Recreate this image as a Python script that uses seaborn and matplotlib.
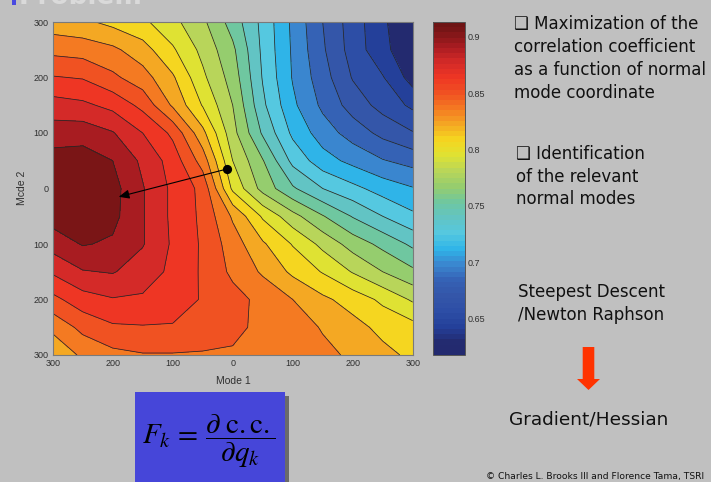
import numpy as np
import matplotlib
matplotlib.use("Agg")
import matplotlib.pyplot as plt
import seaborn as sns
from matplotlib.cm import ScalarMappable
from matplotlib.colors import LinearSegmentedColormap, Normalize
from matplotlib.patches import Rectangle, Polygon

# normal mode grid
mode1 = [-300, -250, -200, -150, -100, -50, 0, 50, 100, 150, 200, 250, 300]
mode2 = [300, 250, 200, 150, 100, 50, 0, -50, -100, -150, -200, -250, -300]

# correlation coefficient, one row per Mode 2 value (top to bottom)
cc_p300 = [0.822, 0.819, 0.812, 0.805, 0.792, 0.777, 0.754, 0.728, 0.701, 0.676, 0.655, 0.637, 0.618]
cc_p250 = [0.840, 0.838, 0.833, 0.822, 0.804, 0.784, 0.763, 0.729, 0.702, 0.678, 0.656, 0.638, 0.623]
cc_p200 = [0.859, 0.857, 0.847, 0.836, 0.818, 0.791, 0.768, 0.731, 0.703, 0.682, 0.661, 0.649, 0.628]
cc_p150 = [0.878, 0.875, 0.868, 0.854, 0.828, 0.801, 0.774, 0.735, 0.707, 0.687, 0.670, 0.657, 0.645]
cc_p100 = [0.893, 0.894, 0.887, 0.872, 0.855, 0.820, 0.779, 0.744, 0.715, 0.697, 0.684, 0.672, 0.663]
cc_p050 = [0.906, 0.907, 0.900, 0.883, 0.866, 0.838, 0.788, 0.761, 0.728, 0.710, 0.700, 0.691, 0.685]
cc_000 = [0.912, 0.908, 0.905, 0.887, 0.869, 0.854, 0.799, 0.769, 0.748, 0.732, 0.722, 0.712, 0.705]
cc_m050 = [0.906, 0.907, 0.904, 0.887, 0.869, 0.855, 0.828, 0.800, 0.779, 0.761, 0.745, 0.732, 0.721]
cc_m100 = [0.892, 0.901, 0.898, 0.887, 0.870, 0.856, 0.837, 0.818, 0.801, 0.784, 0.768, 0.756, 0.743]
cc_m150 = [0.874, 0.885, 0.887, 0.879, 0.869, 0.856, 0.841, 0.828, 0.813, 0.801, 0.787, 0.774, 0.763]
cc_m200 = [0.854, 0.866, 0.871, 0.870, 0.864, 0.857, 0.849, 0.840, 0.830, 0.819, 0.810, 0.799, 0.786]
cc_m250 = [0.834, 0.848, 0.856, 0.857, 0.857, 0.850, 0.846, 0.842, 0.836, 0.829, 0.821, 0.812, 0.807]
cc_m300 = [0.817, 0.833, 0.840, 0.843, 0.843, 0.843, 0.843, 0.840, 0.837, 0.833, 0.828, 0.820, 0.813]

# search path: start point and the maximum it heads to
search_start = [-10, 35]
search_end = [-190, -15]

tick_values = [-300, -200, -100, 0, 100, 200, 300]
x_tick_labels = ["300", "200", "100", "0", "100", "200", "300"]
y_tick_labels = ["300", "200", "100", "0", "100", "200", "300"]
cbar_ticks = [0.65, 0.70, 0.75, 0.80, 0.85, 0.90]
cbar_tick_labels = ["0.65", "0.7", "0.75", "0.8", "0.85", "0.9"]
cbar_range = [0.618, 0.913]

# fill colours, lowest band first
band_colors = ["#232a6f", "#24409a", "#2d4ea6", "#3456a9", "#3562b5", "#3a86cf",
               "#2fb4e8", "#55c8e0", "#62c4c4", "#6fc7a0", "#95cd6e", "#b8d55a",
               "#dfe233", "#f5d620", "#f4a823", "#f47a22", "#f05222", "#ee3624",
               "#d42a28", "#a81c21", "#7a1516"]

SLIDE = "#c0c0c0"
W, H = 711, 482


def fx(px):
    return px / W


def fy(py):
    return 1 - py / H


sns.set_style("white")
plt.rcParams["font.family"] = ["DejaVu Sans"]
plt.rcParams["mathtext.fontset"] = "stix"

Z = np.array([cc_p300, cc_p250, cc_p200, cc_p150, cc_p100, cc_p050, cc_000,
              cc_m050, cc_m100, cc_m150, cc_m200, cc_m250, cc_m300])
X, Y = np.meshgrid(mode1, mode2)

inner_levels = list(np.round(np.arange(0.634, 0.9005, 0.014), 3))
bounds = [0.60] + inner_levels + [0.93]

fig = plt.figure(figsize=(W / 100, H / 100), dpi=100, facecolor=SLIDE)

# contour map
ax = fig.add_axes([fx(52.7), fy(355), fx(412.7) - fx(52.7), fy(22) - fy(355)])
ax.contourf(X, Y, Z, levels=bounds, colors=band_colors)
ax.contour(X, Y, Z, levels=inner_levels, colors="#262626", linewidths=0.55)
ax.annotate("", xy=search_end, xytext=search_start,
            arrowprops=dict(arrowstyle="-|>,head_length=0.7,head_width=0.3",
                            color="black", lw=0.8, shrinkA=0, shrinkB=0,
                            mutation_scale=9))
sns.scatterplot(x=[search_start[0]], y=[search_start[1]], color="black", s=44,
                linewidth=0, ax=ax, zorder=6, legend=False)
ax.set_xlim(-300, 300)
ax.set_ylim(-300, 300)
ax.set_xticks(tick_values)
ax.set_xticklabels(x_tick_labels)
ax.set_yticks(tick_values)
ax.set_yticklabels(y_tick_labels)
ax.tick_params(length=0, pad=3, labelsize=6.5, labelcolor="#303030")
for lab in ax.get_xticklabels() + ax.get_yticklabels():
    lab.set_family("Liberation Sans")
for sp in ax.spines.values():
    sp.set_color("#7a7a7a")
    sp.set_linewidth(0.8)
ax.set_xlabel("")
ax.set_ylabel("")

fig.text(fx(233), fy(381), "Mode 1", ha="center", va="center", fontsize=7.5,
         color="#303030", family="Liberation Sans")
fig.text(fx(22), fy(188), "Mcde 2", ha="center", va="center", rotation=90,
         fontsize=7.5, color="#303030", family="Liberation Sans")

# colorbar
cax = fig.add_axes([fx(433), fy(355), fx(465) - fx(433), fy(22) - fy(355)])
mids = [0.62 + 0.014 * (k + 0.5) for k in range(len(band_colors))]
span = cbar_range[1] - cbar_range[0]
anchors = [(0.0, band_colors[0])]
anchors += [((m - cbar_range[0]) / span, c) for m, c in zip(mids, band_colors)]
anchors += [(1.0, "#6e1414")]
cb_cmap = LinearSegmentedColormap.from_list("slide_jet", anchors, N=64)
sm = ScalarMappable(norm=Normalize(*cbar_range), cmap=cb_cmap)
cb = fig.colorbar(sm, cax=cax, ticks=cbar_ticks)
cb.ax.set_yticklabels(cbar_tick_labels)
cb.ax.tick_params(direction="in", length=3, width=0.6, color="#404040",
                  labelsize=6.5, labelcolor="#303030", pad=2,
                  left=True, right=True)
for lab in cb.ax.get_yticklabels():
    lab.set_family("Liberation Sans")
cb.outline.set_edgecolor("#555555")
cb.outline.set_linewidth(0.7)

# slide text on the right
right_lines = [
    ("\u2751 Maximization of the", 514, 29.5),
    ("correlation coefficient", 514, 52.5),
    ("as a function of normal", 514, 75.2),
    ("mode coordinate", 514, 97.8),
    ("\u2751 Identification", 516, 159.5),
    ("of the relevant", 516, 182),
    ("normal modes", 516, 204.5),
    ("Steepest Descent", 518, 297),
    ("/Newton Raphson", 518, 319.5),
]
for txt, px, py in right_lines:
    fig.text(fx(px), fy(py), txt, ha="left", va="baseline", fontsize=12,
             color="#111111")
fig.text(fx(509), fy(424), "Gradient/Hessian", ha="left", va="baseline",
         fontsize=13.3, color="#111111")
fig.text(fx(486), fy(479), "\u00a9 Charles L. Brooks III and Florence Tama, TSRI",
         ha="left", va="baseline", fontsize=6.6, color="#111111")

# red down arrow
arrow_px = [(582.7, 347), (594.3, 347), (594.3, 379), (600, 379), (588.5, 390),
            (577, 379), (582.7, 379)]
fig.patches.append(Polygon([(fx(a), fy(b)) for a, b in arrow_px], closed=True,
                           transform=fig.transFigure, facecolor="#ff3300",
                           edgecolor="none"))

# formula box with shadow
fig.patches.append(Rectangle((fx(139), fy(490)), fx(150), fy(0) - fy(94),
                             transform=fig.transFigure, facecolor="#6a6a6a",
                             edgecolor="none"))
fig.patches.append(Rectangle((fx(135), fy(490)), fx(150), fy(0) - fy(98),
                             transform=fig.transFigure, facecolor="#4646d9",
                             edgecolor="none"))
fig.text(fx(209), fy(441), r"$F_k\,=\,\dfrac{\partial\;\mathrm{c.c.}}{\partial q_k}$",
         ha="center", va="center", fontsize=21, color="black")

# cut-off slide title
fig.patches.append(Rectangle((fx(11.5), fy(5)), fx(4.5), fy(0) - fy(5),
                             transform=fig.transFigure, facecolor="#4a4ae0",
                             edgecolor="none"))
fig.text(fx(19), fy(4), "Problem", ha="left", va="baseline", fontsize=19,
         fontweight="bold", color="#dadada")

fig.savefig("out.png", dpi=100, facecolor=fig.get_facecolor())
